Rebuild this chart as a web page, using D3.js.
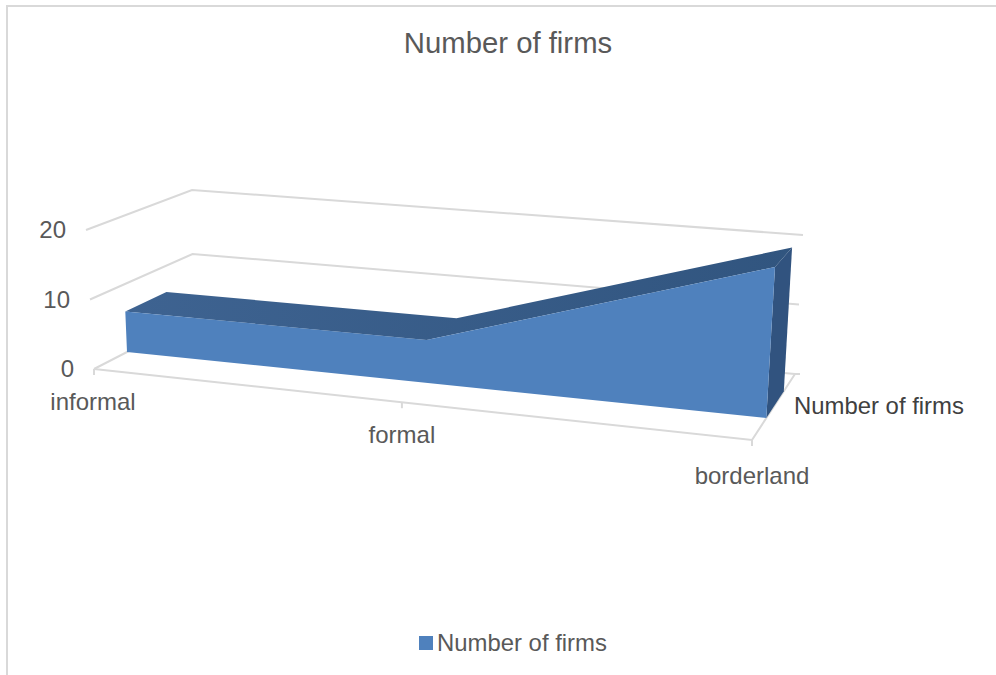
<!DOCTYPE html>
<html><head><meta charset="utf-8">
<script src="https://cdn.jsdelivr.net/npm/d3@7"></script>
<style>html,body{margin:0;padding:0;background:#fff}svg{display:block}text{font-family:"Liberation Sans",Arial,sans-serif}</style>
</head><body><svg id="c" width="996" height="675"></svg>
<script>
const categories = ["informal","formal","borderland"];
const values = [6,6,20];
const yTicks = [0,10,20];
const seriesName = "Number of firms";
const titleText = "Number of firms";

const svg = d3.select("#c");
const grid="#d9d9d9";
const gridW=2;
// chart frame
svg.append("path").attr("d","M7,675V6H996").attr("fill","none").attr("stroke",grid).attr("stroke-width",2);

// 3D box: corners of the projected plot box
const box = {
  fl0:[94,369], fl1:[86,230], bl0:[193,318], bl1:[192,190],
  fr0:[752,440], fr1:[761,283], br0:[795,374], br1:[803,235]
};
const lerp=(a,b,f)=>[a[0]+(b[0]-a[0])*f,a[1]+(b[1]-a[1])*f];
const y=d3.scaleLinear().domain([0,20]).range([0,1]);
const xPos=d3.scalePoint().domain(categories).range([0,1]);
const k=1.137; // perspective foreshortening
const warp=t=>t/(t+(1-t)*k);
function proj(t,d,v){
  const f=warp(t), h=y(v);
  const frontLow=lerp(box.fl0,box.fr0,f), frontHigh=lerp(box.fl1,box.fr1,f);
  const backLow=lerp(box.bl0,box.br0,f), backHigh=lerp(box.bl1,box.br1,f);
  return lerp(lerp(frontLow,frontHigh,h),lerp(backLow,backHigh,h),d);
}
const line=d3.line();
const dFront=1/3,dBack=0.74;
const stroke=sel=>sel.attr("fill","none").attr("stroke",grid).attr("stroke-width",gridW);

// gridlines: side wall and back wall
yTicks.forEach(v=>{
  svg.append("path").call(stroke).attr("d",line([proj(0,0,v),proj(0,1,v),proj(1,1,v)]));
});
// floor front edge and right edge
svg.append("path").call(stroke).attr("d",line([proj(0,0,0),proj(1,0,0),proj(1,1,0)]));
// end stubs
const g0=proj(1,1,0);
svg.append("path").call(stroke).attr("d",line([g0,[g0[0]+5,g0[1]]]));
// category ticks
categories.forEach(c=>{
  const p=proj(xPos(c),0,0);
  svg.append("path").call(stroke).attr("d",line([p,[p[0],p[1]+6]]));
});

// area: side, top and front faces
const last=categories.length-1;
const topFront=categories.map((c,i)=>proj(xPos(c),dFront,values[i]));
const topBack=categories.map((c,i)=>proj(xPos(c),dBack,values[i]));
const cL=xPos(categories[0]), cR=xPos(categories[last]);
const grad=svg.append("defs").append("linearGradient").attr("id","topG").attr("x1",0).attr("x2",1).attr("y1",0).attr("y2",0);
grad.append("stop").attr("offset",0).attr("stop-color","#3e6391");
grad.append("stop").attr("offset",1).attr("stop-color","#31557f");
// right side
svg.append("path").attr("fill","#31537f").attr("d",line([
  topFront[last],topBack[last],proj(cR,dBack,0),proj(cR,dFront,0)
])+"Z");
// top
svg.append("path").attr("fill","url(#topG)").attr("d",line([...topFront,...topBack.slice().reverse()])+"Z");
// front
svg.append("path").attr("fill","#4f81bd").attr("d",line([...topFront,proj(cR,dFront,0),proj(cL,dFront,0)])+"Z");

// value axis labels
yTicks.forEach(v=>{
  const p=proj(0,0,v);
  svg.append("text").attr("x",p[0]-20).attr("y",p[1]+8).attr("text-anchor","end")
    .attr("font-size",24).attr("fill","#595959").text(v);
});
// category labels
const catOff=[[-1,41],[0,41],[0,44]];
categories.forEach((c,i)=>{
  const p=proj(xPos(c),0,0);
  svg.append("text").attr("x",p[0]+catOff[i][0]).attr("y",p[1]+catOff[i][1]).attr("text-anchor","middle")
    .attr("font-size",24).attr("fill","#595959").text(c);
});
// series label on depth axis
svg.append("text").attr("x",794).attr("y",414).attr("font-size",23.9).attr("fill","#404040").text(seriesName);
// title
svg.append("text").attr("x",508).attr("y",53).attr("text-anchor","middle").attr("font-size",29.3).attr("fill","#595959").text(titleText);
// legend
svg.append("rect").attr("x",419).attr("y",636).attr("width",14).attr("height",14).attr("fill","#4f81bd");
svg.append("text").attr("x",437).attr("y",651).attr("font-size",23.9).attr("fill","#595959").text(seriesName);
</script></body></html>
